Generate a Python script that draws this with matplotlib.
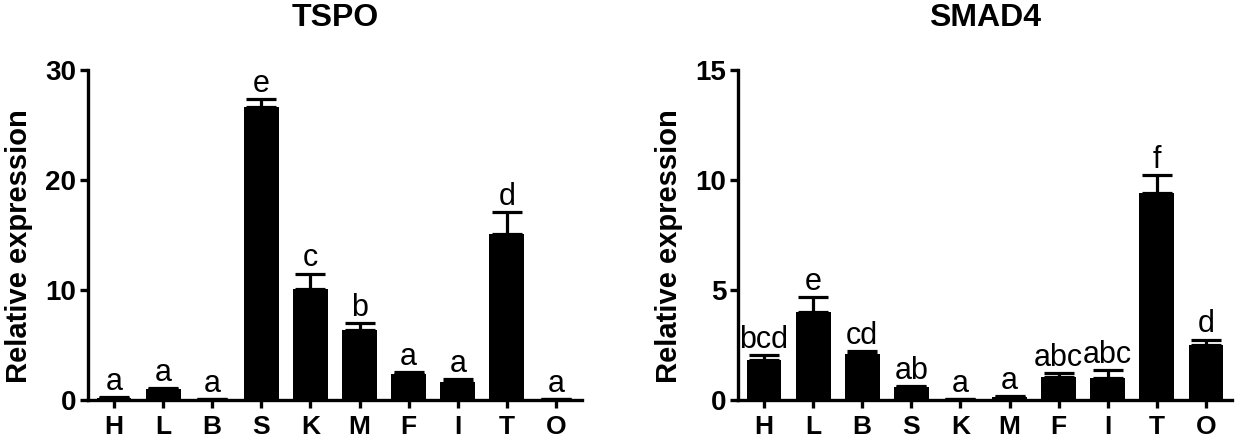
import numpy as np
import matplotlib
matplotlib.use("Agg")
import matplotlib.pyplot as plt

plt.rcParams['font.family'] = ['Liberation Sans', 'DejaVu Sans']

tissues = ['H', 'L', 'B', 'S', 'K', 'M', 'F', 'I', 'T', 'O']

tspo_mean = [0.2, 1.0, 0.05, 26.6, 10.1, 6.4, 2.35, 1.6, 15.1, 0.1]
tspo_err = [0.05, 0.1, 0.02, 0.8, 1.4, 0.6, 0.2, 0.3, 2.0, 0.03]
tspo_sig = ['a', 'a', 'a', 'e', 'c', 'b', 'a', 'a', 'd', 'a']

smad4_mean = [1.8, 4.0, 2.1, 0.6, 0.03, 0.15, 1.05, 1.0, 9.4, 2.5]
smad4_err = [0.25, 0.7, 0.15, 0.05, 0.01, 0.02, 0.2, 0.35, 0.85, 0.25]
smad4_sig = ['bcd', 'e', 'cd', 'ab', 'a', 'a', 'abc', 'abc', 'f', 'd']

W, H = 1241, 446
fig = plt.figure(figsize=(W / 100, H / 100), dpi=100)
ax1 = fig.add_axes([88 / W, 1 - 400 / H, 494 / W, 330 / H])
ax2 = fig.add_axes([738 / W, 1 - 400 / H, 494 / W, 330 / H])


def draw(ax, mean, err, sig, ymax, step, title):
    x = np.arange(len(tissues))
    ax.bar(x, mean, width=0.71, color='black', zorder=2)
    ax.errorbar(x, mean, yerr=[np.zeros(len(err)), err], fmt='none',
                ecolor='black', elinewidth=2.3, capsize=11, capthick=2.3, zorder=1)
    for xi, m, e, s in zip(x, mean, err, sig):
        ax.annotate(s, (xi, m + e), xytext=(0, 0), textcoords='offset points',
                    ha='center', va='bottom', fontsize=22)
    ax.set_xlim(-0.53, 9.53)
    ax.set_ylim(0, ymax)
    ax.set_yticks(np.arange(0, ymax + 0.1, step))
    ax.set_xticks(x)
    ax.set_xticklabels(tissues, fontsize=19, fontweight='bold')
    for lab in ax.get_yticklabels():
        lab.set_fontsize(20)
        lab.set_fontweight('bold')
    ax.spines['top'].set_visible(False)
    ax.spines['right'].set_visible(False)
    ax.spines['left'].set_linewidth(2.4)
    ax.spines['bottom'].set_linewidth(2.4)
    ax.tick_params(axis='both', width=2.4, length=5.5, pad=3)
    ax.tick_params(axis='x', pad=5)
    ax.set_ylabel('Relative expression', fontsize=21, fontweight='bold')
    # anchor is the right edge of the rotated label
    ax.yaxis.set_label_coords(-55 / 494, 154 / 330)
    ax.set_title(title, fontsize=23, fontweight='bold', pad=32)


draw(ax1, tspo_mean, tspo_err, tspo_sig, 30, 10, 'TSPO')
draw(ax2, smad4_mean, smad4_err, smad4_sig, 15, 5, 'SMAD4')

fig.savefig('out.png', dpi=100)
